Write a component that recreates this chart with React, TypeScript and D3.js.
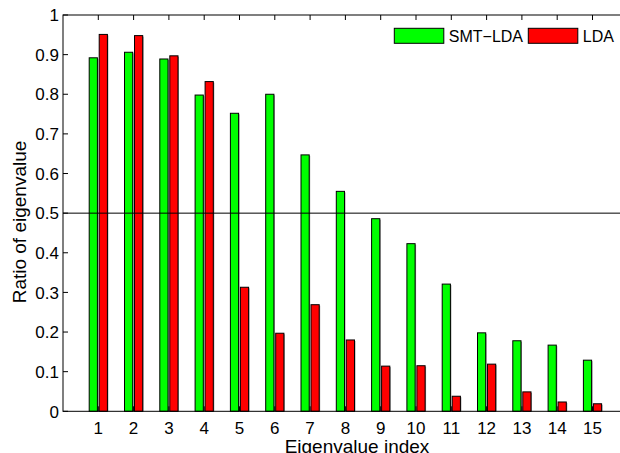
import React from "react";
import * as d3 from "d3";

// Eigenvalue indices and the ratio of each eigenvalue for the two methods
const indices = [1, 2, 3, 4, 5, 6, 7, 8, 9, 10, 11, 12, 13, 14, 15];
const smtLda = [0.892, 0.906, 0.889, 0.798, 0.752, 0.8, 0.647, 0.555, 0.486, 0.423, 0.321, 0.198, 0.178, 0.167, 0.129];
const lda = [0.951, 0.948, 0.897, 0.832, 0.313, 0.197, 0.269, 0.18, 0.114, 0.115, 0.038, 0.119, 0.049, 0.0235, 0.019];
const yTicks = [0, 0.1, 0.2, 0.3, 0.4, 0.5, 0.6, 0.7, 0.8, 0.9, 1];
const seriesNames = ["SMT\u2212LDA", "LDA"];
const seriesColors = ["#00ff00", "#ff0000"];

const W = 620;
const H = 453;
const FONT = "'Liberation Sans', Arial, Helvetica, sans-serif";

export default function App() {
  const x = d3.scaleLinear().domain([0, 16]).range([63, 627.8]);
  const y = d3.scaleLinear().domain([0, 1]).range([411.3, 15]);
  const left = x(0);
  const right = x(16);
  const top = y(1);
  const bottom = y(0);
  const barW = 8.2;
  const offsets = [-5, 5];
  const series = [smtLda, lda];

  return (
    <svg
      width={W}
      height={H}
      viewBox={`0 0 ${W} ${H}`}
      style={{ position: "absolute", left: 0, top: 0, background: "#fff" }}
      fontFamily={FONT}
    >
      <rect x={0} y={0} width={W} height={H} fill="#fff" />
      {/* bars */}
      {indices.map((idx, i) =>
        series.map((vals, s) => {
          const cx = x(idx) + offsets[s];
          const yTop = y(vals[i]);
          return (
            <g key={`${idx}-${s}`}>
              <rect
                x={cx - barW / 2 + 1}
                y={yTop + 1}
                width={barW}
                height={bottom - yTop - 1}
                fill="#9a9a9a"
              />
              <rect
                x={cx - barW / 2}
                y={yTop}
                width={barW}
                height={bottom - yTop}
                fill={seriesColors[s]}
                stroke="#000"
                strokeWidth={1}
              />
            </g>
          );
        })
      )}
      {/* reference line at 0.5 */}
      <line x1={left} x2={right} y1={y(0.5)} y2={y(0.5)} stroke="#000" strokeWidth={1} />
      {/* axes box */}
      <rect x={left} y={top} width={right - left} height={bottom - top} fill="none" stroke="#000" strokeWidth={1} />
      {/* y ticks */}
      {yTicks.map((t) => (
        <g key={`yt${t}`}>
          <line x1={left} x2={left + 5} y1={y(t)} y2={y(t)} stroke="#000" />
          <line x1={right} x2={right - 5} y1={y(t)} y2={y(t)} stroke="#000" />
          <text x={left - 4} y={y(t) + 6.2} fontSize={17} textAnchor="end" fill="#000">
            {t === 0 || t === 1 ? String(t) : t.toFixed(1)}
          </text>
        </g>
      ))}
      {/* x ticks */}
      {indices.map((idx) => (
        <g key={`xt${idx}`}>
          <line x1={x(idx)} x2={x(idx)} y1={bottom} y2={bottom - 5} stroke="#000" />
          <line x1={x(idx)} x2={x(idx)} y1={top} y2={top + 5} stroke="#000" />
          <text x={x(idx)} y={433.5} fontSize={17} textAnchor="middle" fill="#000">
            {idx}
          </text>
        </g>
      ))}
      {/* axis labels */}
      <text x={357} y={452.5} fontSize={19} textAnchor="middle" fill="#000">
        Eigenvalue index
      </text>
      <text
        transform={`translate(25.6, 222) rotate(-90)`}
        fontSize={19}
        textAnchor="middle"
        fill="#000"
      >
        Ratio of eigenvalue
      </text>
      {/* legend */}
      {seriesNames.map((name, s) => {
        const lx = s === 0 ? 394.3 : 528.3;
        return (
          <g key={name}>
            <rect x={lx} y={28.3} width={49.5} height={15} fill={seriesColors[s]} stroke="#000" strokeWidth={1} />
            <text x={lx + 54.5} y={42.3} fontSize={16} fill="#000">
              {name}
            </text>
          </g>
        );
      })}
    </svg>
  );
}
